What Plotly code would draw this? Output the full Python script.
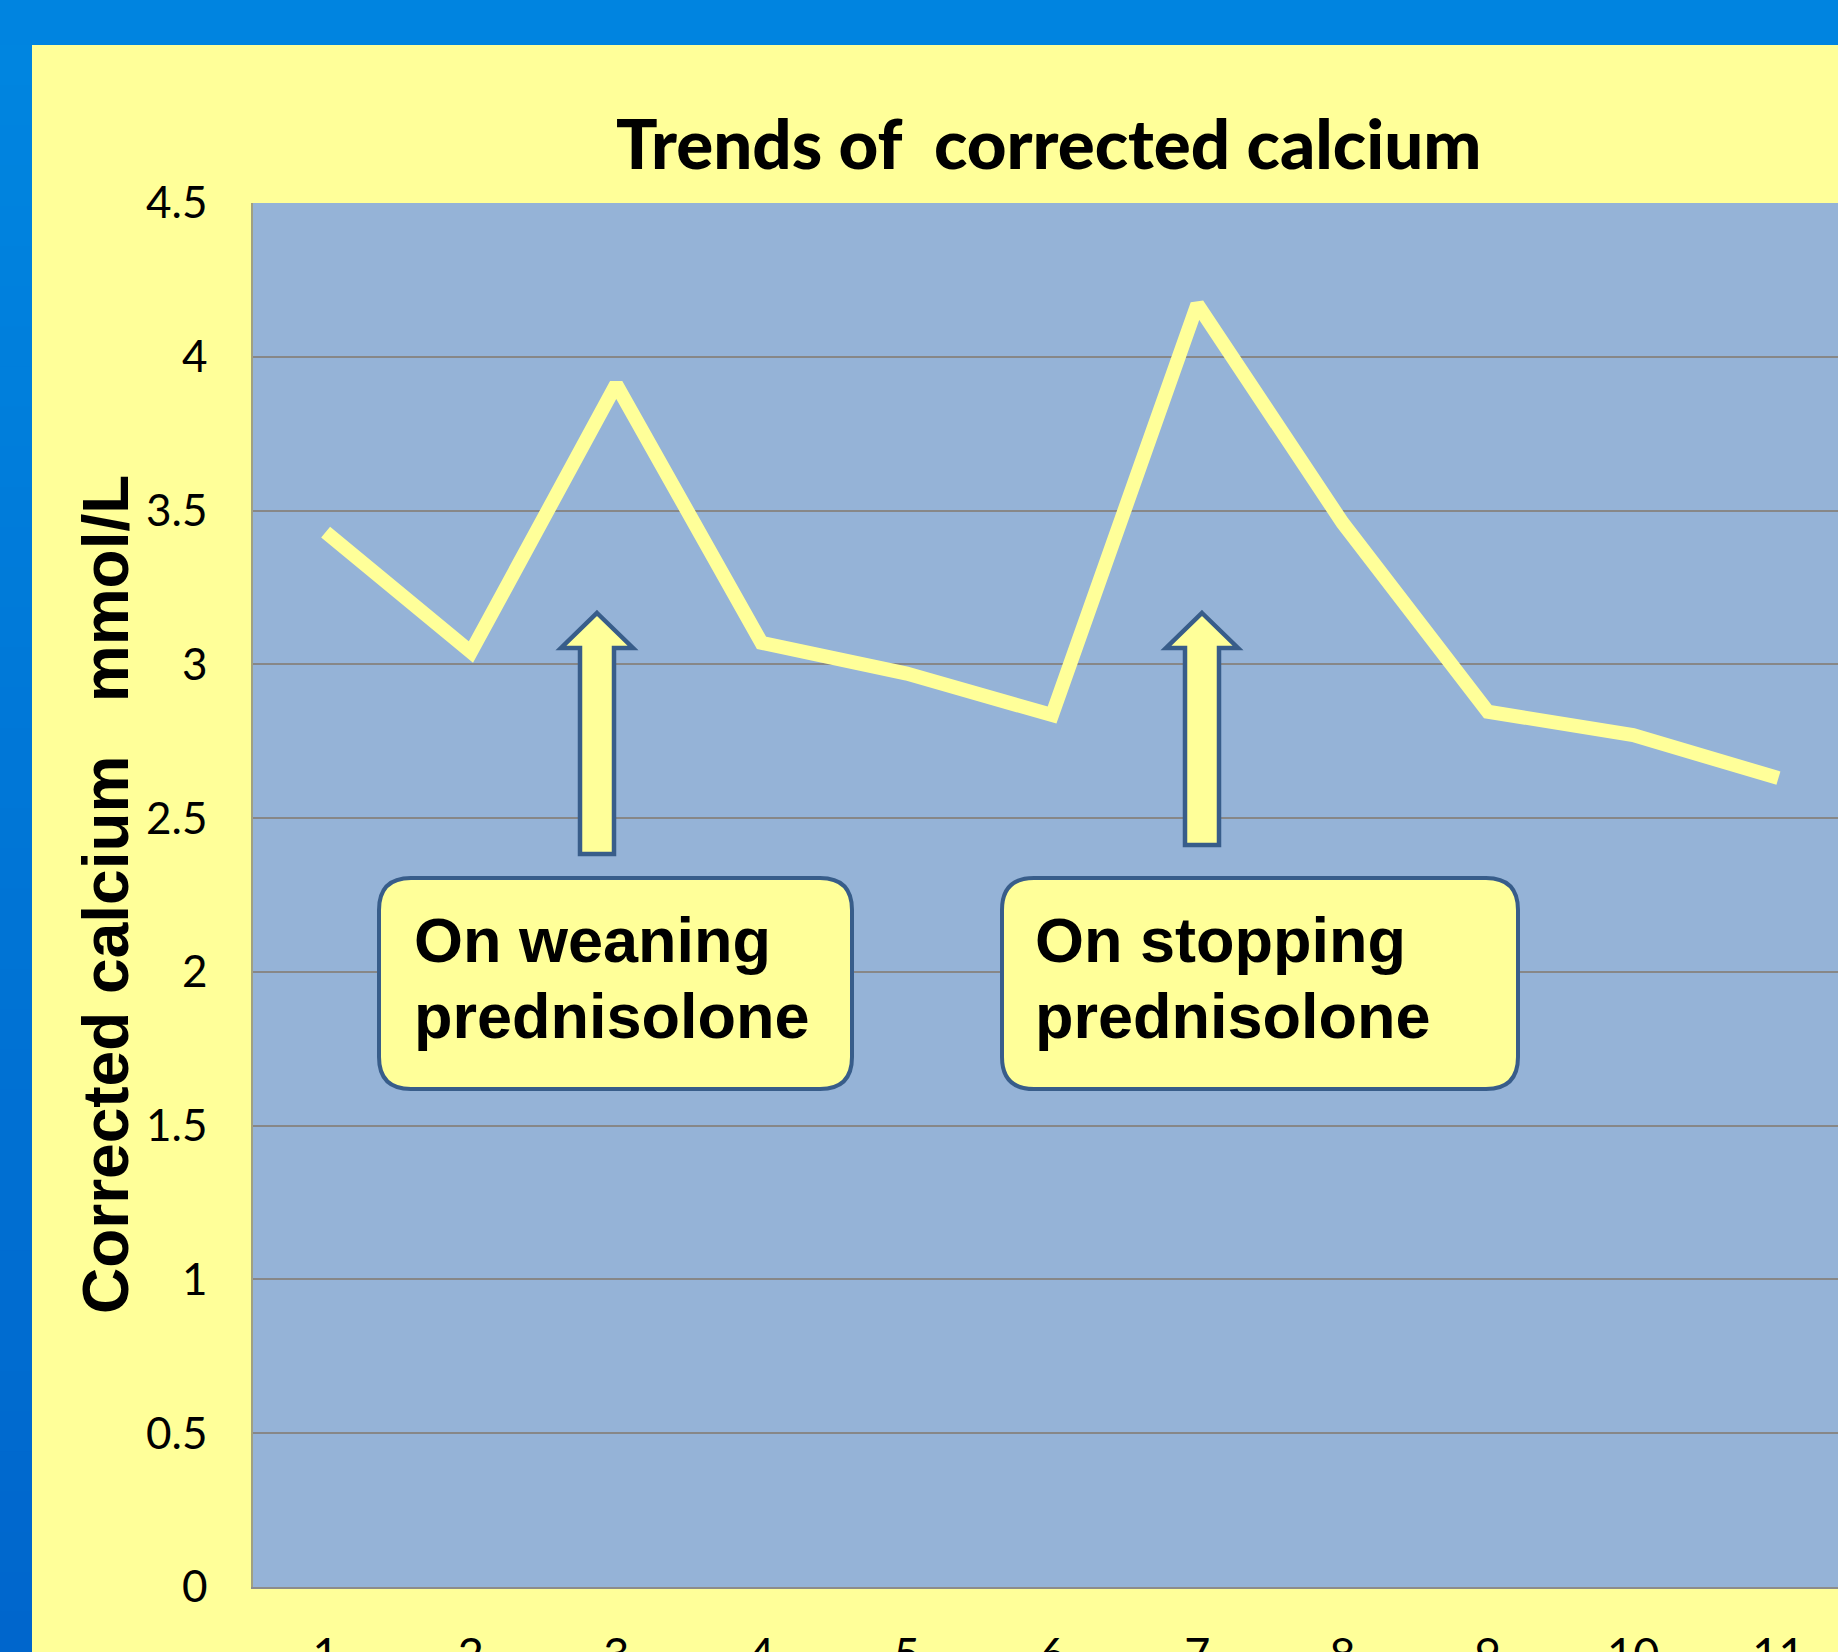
import plotly.graph_objects as go

# ---------------- data ----------------
visits = [1, 2, 3, 4, 5, 6, 7, 8, 9, 10, 11]
calcium = [3.43, 3.04, 3.91, 3.07, 2.97, 2.835, 4.17, 3.46, 2.846, 2.77, 2.63]
y_ticks = [0, 0.5, 1, 1.5, 2, 2.5, 3, 3.5, 4, 4.5]
y_tick_labels = ["0", "0.5", "1", "1.5", "2", "2.5", "3", "3.5", "4", "4.5"]
title_text = "Trends of\u00a0 corrected calcium"
y_title_text = "Corrected calcium \u00a0 mmol/L"
note_lines = [["On weaning", "prednisolone"], ["On stopping", "prednisolone"]]

# ---------------- layout geometry (pixels) ----------------
FW, FH = 1838, 1652
L, T, R, B = 253, 203, 1838, 1587
X0, X1 = 0.5, 11.41
Y0, Y1 = 0.0, 4.5
W, H = R - L, B - T


def xp(px):  # pixel -> paper x
    return (px - L) / W


def yp(py):  # pixel -> paper y
    return (B - py) / H


def dx(px):  # pixel -> data x
    return X0 + (px - L) * (X1 - X0) / W


def dy(py):  # pixel -> data y
    return Y0 + (B - py) * (Y1 - Y0) / H


YELLOW = "#FFFF99"
PLOTBG = "#95B3D7"
OUTLINE = "#385D8A"
GRID = "#878787"

fig = go.Figure()
fig.add_trace(go.Scatter(
    x=visits, y=calcium, mode="lines",
    line=dict(color=YELLOW, width=14),
    hoverinfo="skip", showlegend=False,
))

shapes = []
# blue frame: top bar + left bar (gradient)
shapes.append(dict(type="rect", xref="paper", yref="paper",
                   x0=xp(0), x1=xp(FW), y0=yp(0), y1=yp(45),
                   fillcolor="#0084E0", line=dict(width=0), layer="below"))
n = 40
c_top = (0, 133, 224)
c_bot = (0, 102, 204)
for i in range(n):
    t = i / (n - 1)
    col = tuple(round(a + (b - a) * t) for a, b in zip(c_top, c_bot))
    shapes.append(dict(type="rect", xref="paper", yref="paper",
                       x0=xp(0), x1=xp(32),
                       y0=yp(45 + (FH - 45) * i / n),
                       y1=yp(45 + (FH - 45) * (i + 1) / n + 1),
                       fillcolor="rgb(%d,%d,%d)" % col, line=dict(width=0),
                       layer="below"))


def arrow_path(cx, shaft_hw, head_hw, tip, head_base, bottom):
    pts = [
        (cx, tip), (cx + head_hw, head_base), (cx + shaft_hw, head_base),
        (cx + shaft_hw, bottom), (cx - shaft_hw, bottom), (cx - shaft_hw, head_base),
        (cx - head_hw, head_base),
    ]
    d = "M " + " L ".join("%f,%f" % (dx(px), dy(py)) for px, py in pts) + " Z"
    return d


def rounded_rect(x0, y0, x1, y1, r):
    rx = r * (X1 - X0) / W
    ry = r * (Y1 - Y0) / H
    a, b, c, d = dx(x0), dx(x1), dy(y0), dy(y1)  # c top, d bottom (data)
    p = (f"M {a+rx},{c} L {b-rx},{c} Q {b},{c} {b},{c-ry} "
         f"L {b},{d+ry} Q {b},{d} {b-rx},{d} "
         f"L {a+rx},{d} Q {a},{d} {a},{d+ry} "
         f"L {a},{c-ry} Q {a},{c} {a+rx},{c} Z")
    return p


# arrows
for cx, bottom in [(597, 854), (1202, 845)]:
    shapes.append(dict(type="path", xref="x", yref="y",
                       path=arrow_path(cx, 17, 36, 613, 648, bottom),
                       fillcolor=YELLOW, line=dict(color=OUTLINE, width=4.5),
                       layer="above"))

# note boxes
boxes = [(379, 878, 852, 1089), (1002, 878, 1518, 1089)]
for (x0, y0, x1, y1) in boxes:
    shapes.append(dict(type="path", xref="x", yref="y",
                       path=rounded_rect(x0, y0, x1, y1, 32),
                       fillcolor=YELLOW, line=dict(color=OUTLINE, width=4),
                       layer="above"))

annotations = []
# title
annotations.append(dict(
    text=title_text, xref="paper", yref="paper", x=xp(1049), y=yp(142),
    xanchor="center", yanchor="middle", showarrow=False,
    font=dict(family="Lato", size=69, color="black", weight=900),
))
# y-axis title
annotations.append(dict(
    text=y_title_text, xref="paper", yref="paper", x=xp(106), y=yp(895),
    xanchor="center", yanchor="middle", showarrow=False, textangle=-90,
    font=dict(family="Liberation Sans", size=64, color="black", weight="bold"),
))
# note texts
text_x = [412, 1033]
for lines, tx in zip(note_lines, text_x):
    for line, base in zip(lines, [962, 1038]):
        annotations.append(dict(
            text=line, xref="paper", yref="paper", x=xp(tx), y=yp(base - 22),
            xanchor="left", yanchor="middle", showarrow=False,
            font=dict(family="Liberation Sans", size=63, color="black", weight="bold"),
        ))

fig.update_layout(
    width=FW, height=FH,
    margin=dict(l=L, r=FW - R, t=T, b=FH - B, pad=0),
    paper_bgcolor=YELLOW, plot_bgcolor=PLOTBG,
    shapes=shapes, annotations=annotations,
    showlegend=False,
    xaxis=dict(
        range=[X0, X1], tickmode="array", tickvals=visits,
        ticktext=[str(v) for v in visits],
        showgrid=False, zeroline=False, showline=True, linecolor="#8C8C8C",
        linewidth=2, ticks="", ticklabelstandoff=27,
        tickfont=dict(family="Lato", size=45, color="black"),
        automargin=False, fixedrange=True,
    ),
    yaxis=dict(
        range=[Y0, Y1], tickmode="array", tickvals=y_ticks, ticktext=y_tick_labels,
        showgrid=True, gridcolor=GRID, gridwidth=1.5, zeroline=False,
        showline=True, linecolor="#A0A080", linewidth=1.5, ticks="",
        ticklabelstandoff=35,
        tickfont=dict(family="Lato", size=44, color="black"),
        automargin=False, fixedrange=True,
    ),
)

fig.write_html(
    "out.html",
    config={"displayModeBar": False},
    post_script="document.body.style.margin='0';document.body.style.padding='0';"
                "document.body.style.overflow='hidden';",
)
